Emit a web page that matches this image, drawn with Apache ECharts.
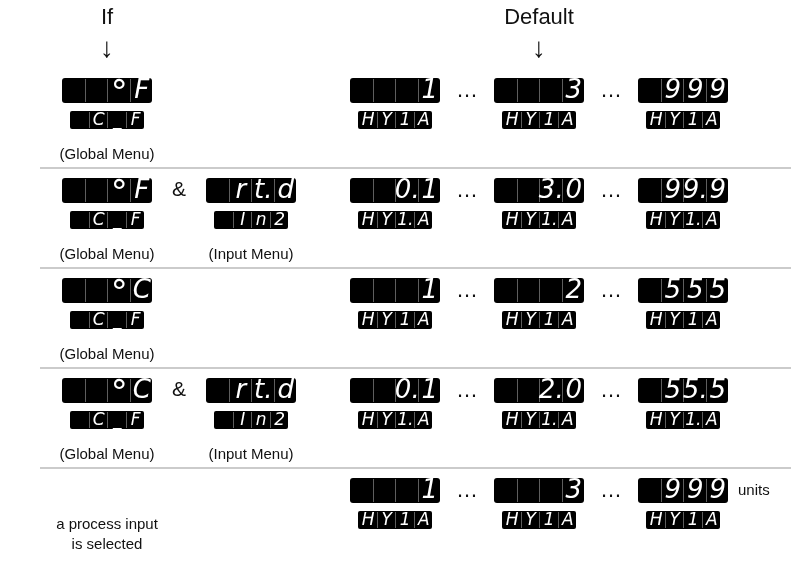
<!DOCTYPE html>
<html>
<head>
<meta charset="utf-8">
<script src="https://cdn.jsdelivr.net/npm/echarts@6/dist/echarts.min.js"></script>
<style>
html,body{margin:0;padding:0;background:#fff;}
#chart{width:791px;height:572px;}
</style>
</head>
<body>
<div id="chart"></div>
<script>
// ---- data ----
const colNames = ['if1', 'if2', 'low', 'typical', 'high'];
const rowNames = ['degF', 'degF_rtd', 'degC', 'degC_rtd', 'process'];
const headers = [['If', 0], ['Default', 3]];
const condBig = [['°F', ''], ['°F', 'rt.d'], ['°C', ''], ['°C', 'rt.d'], ['', '']];
const condSmall = [['C_F', ''], ['C_F', 'In2'], ['C_F', ''], ['C_F', 'In2'], ['', '']];
const condMenu = [['(Global Menu)', ''], ['(Global Menu)', '(Input Menu)'], ['(Global Menu)', ''], ['(Global Menu)', '(Input Menu)'], ['', '']];
const defaultMin = ['1', '0.1', '1', '0.1', '1'];
const defaultMid = ['3', '3.0', '2', '2.0', '3'];
const defaultMax = ['999', '99.9', '555', '55.5', '999'];
const paramCode = ['HY1A', 'HY1.A', 'HY1A', 'HY1.A', 'HY1A'];
const unitNote = ['', '', '', '', 'units'];
const processNote = ['', '', '', '', 'a process input\nis selected'];

// ---- build items ----
const displays = [];
const labels = [];
const amps = [];
for (let r = 0; r < rowNames.length; r++) {
  for (let c = 0; c < 2; c++) {
    if (condBig[r][c]) displays.push([c, r, condBig[r][c], condSmall[r][c]]);
    if (condMenu[r][c]) labels.push([c, r, condMenu[r][c]]);
  }
  if (condBig[r][0] && condBig[r][1]) amps.push([0, r]);
  displays.push([2, r, defaultMin[r], paramCode[r]]);
  displays.push([3, r, defaultMid[r], paramCode[r]]);
  displays.push([4, r, defaultMax[r], paramCode[r]]);
}
const dotsItems = [];
for (let r = 0; r < rowNames.length; r++) { dotsItems.push([2, r]); dotsItems.push([3, r]); }
const sepItems = [];
for (let r = 0; r < rowNames.length - 1; r++) sepItems.push([0, r]);

function cells(str) {
  const out = [];
  for (const ch of str) {
    if (ch === '.' && out.length) out[out.length - 1] += '.';
    else out.push(ch);
  }
  while (out.length < 4) out.unshift('');
  return out;
}

const BIG_W = 90, BIG_H = 25, SM_W = 74, SM_H = 18;
const BIG_OFF = 10, SM_OFF = 43, LABEL_OFF = 87;
const LCD_FONT = '"DejaVu Sans", sans-serif';
const TXT_FONT = '"Liberation Sans", Arial, sans-serif';

function lcd(cx, y, w, h, str, fontSize, radius) {
  const children = [{
    type: 'rect', shape: { x: cx - w / 2, y: y, width: w, height: h, r: radius },
    style: { fill: '#000' }
  }];
  const cw = w / 4;
  for (let k = 1; k < 4; k++) {
    const lx = Math.round(cx - w / 2 + cw * k) + 0.5;
    children.push({ type: 'line', shape: { x1: lx, y1: y + 1, x2: lx, y2: y + h - 1 },
      style: { stroke: '#5e5e5e', lineWidth: 1 } });
  }
  const cs = cells(str);
  cs.forEach((t, i) => {
    if (!t) return;
    const isDeg = t === '°';
    children.push({
      type: 'text',
      style: {
        x: cx - w / 2 + cw * (i + 0.5) + 1, y: y + h / 2 + (isDeg ? 5 : 1),
        text: t, fill: '#fff', align: 'center', verticalAlign: 'middle',
        font: 'italic 300 ' + (isDeg ? Math.round(fontSize * 1.3) : fontSize) + 'px ' + LCD_FONT
      }
    });
  });
  return children;
}

function rowGeom(api, col, row) {
  const c = api.coord([col, row]);
  const s = api.size([1, 1]);
  return { cx: c[0], top: c[1] - s[1] / 2, bw: s[0], bh: s[1] };
}

const chart = echarts.init(document.getElementById('chart'), null, { renderer: 'canvas' });
chart.setOption({
  animation: false,
  backgroundColor: '#fff',
  grid: { left: 35, right: 36, top: 68, bottom: 4 },
  xAxis: { type: 'category', data: colNames, show: false },
  yAxis: { type: 'category', data: rowNames, inverse: true, show: false },
  series: [
    {
      type: 'custom', name: 'separators', data: sepItems, silent: true,
      renderItem: function (params, api) {
        const g = rowGeom(api, sepItems[params.dataIndex][0], sepItems[params.dataIndex][1]);
        const y = Math.round(g.top + g.bh);
        return { type: 'line', shape: { x1: 40, y1: y, x2: api.getWidth(), y2: y },
          style: { stroke: '#cbcbcb', lineWidth: 2 } };
      }
    },
    {
      type: 'custom', name: 'displays', data: displays, silent: true,
      renderItem: function (params, api) {
        const d = displays[params.dataIndex];
        const g = rowGeom(api, d[0], d[1]);
        const kids = lcd(g.cx, g.top + BIG_OFF, BIG_W, BIG_H, d[2], 26, 3)
          .concat(lcd(g.cx, g.top + SM_OFF, SM_W, SM_H, d[3], 17, 2));
        return { type: 'group', children: kids };
      }
    },
    {
      type: 'custom', name: 'menus', data: labels, silent: true,
      renderItem: function (params, api) {
        const d = labels[params.dataIndex];
        const g = rowGeom(api, d[0], d[1]);
        return { type: 'text', style: { x: g.cx, y: g.top + LABEL_OFF, text: d[2], fill: '#111',
          align: 'center', verticalAlign: 'middle', font: '15px ' + TXT_FONT } };
      }
    },
    {
      type: 'custom', name: 'amp', data: amps, silent: true,
      renderItem: function (params, api) {
        const d = amps[params.dataIndex];
        const g = rowGeom(api, d[0], d[1]);
        return { type: 'text', style: { x: g.cx + g.bw / 2, y: g.top + BIG_OFF + BIG_H / 2, text: '&', fill: '#111',
          align: 'center', verticalAlign: 'middle', font: '21px ' + TXT_FONT } };
      }
    },
    {
      type: 'custom', name: 'ellipsis', data: dotsItems, silent: true,
      renderItem: function (params, api) {
        const d = dotsItems[params.dataIndex];
        const g = rowGeom(api, d[0], d[1]);
        return { type: 'text', style: { x: g.cx + g.bw / 2, y: g.top + BIG_OFF + BIG_H / 2, text: '…', fill: '#111',
          align: 'center', verticalAlign: 'middle', font: '22px ' + TXT_FONT } };
      }
    },
    {
      type: 'custom', name: 'notes', data: rowNames.map((n, i) => [0, i]), silent: true,
      renderItem: function (params, api) {
        const r = params.dataIndex;
        const kids = [];
        if (unitNote[r]) {
          const g = rowGeom(api, 4, r);
          kids.push({ type: 'text', style: { x: g.cx + BIG_W / 2 + 10, y: g.top + BIG_OFF + BIG_H / 2, text: unitNote[r],
            fill: '#111', align: 'left', verticalAlign: 'middle', font: '15px ' + TXT_FONT } });
        }
        if (processNote[r]) {
          const g = rowGeom(api, 0, r);
          kids.push({ type: 'text', style: { x: g.cx, y: g.top + 67, text: processNote[r], lineHeight: 20,
            fill: '#111', align: 'center', verticalAlign: 'middle', font: '15px ' + TXT_FONT } });
        }
        return { type: 'group', children: kids };
      }
    },
    {
      type: 'custom', name: 'headers', data: headers.map(h => [h[1], 0]), silent: true,
      renderItem: function (params, api) {
        const h = headers[params.dataIndex];
        const g = rowGeom(api, h[1], 0);
        return { type: 'group', children: [
          { type: 'text', style: { x: g.cx, y: g.top - 50, text: h[0], fill: '#111', align: 'center',
            verticalAlign: 'middle', font: '22px ' + TXT_FONT } },
          { type: 'text', style: { x: g.cx, y: g.top - 19, text: '↓', fill: '#111', align: 'center',
            verticalAlign: 'middle', font: '28px ' + TXT_FONT } }
        ] };
      }
    }
  ]
});
</script>
</body>
</html>
